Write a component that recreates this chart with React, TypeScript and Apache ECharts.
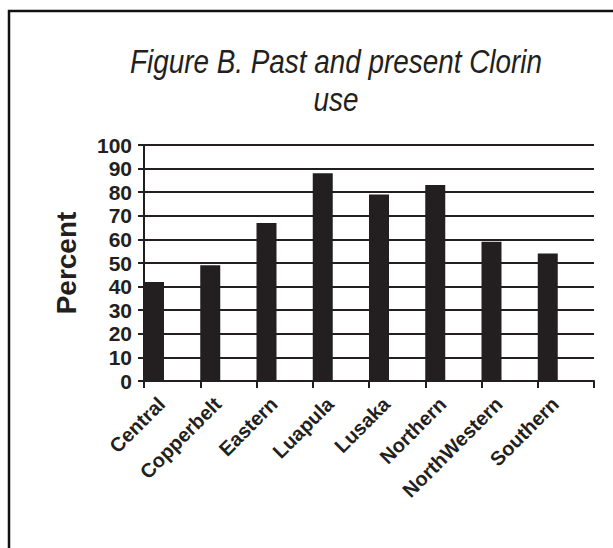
import React, { useEffect, useRef } from "react";
import * as echarts from "echarts";

const categories = ["Central", "Copperbelt", "Eastern", "Luapula", "Lusaka", "Northern", "NorthWestern", "Southern"];
const percentValues = [42, 49, 67, 88, 79, 83, 59, 54];
const emptyValues = categories.map(() => null);
const titleLines = ["Figure B. Past and present Clorin", "use"];
const yAxisName = "Percent";

export default function App() {
  const ref = useRef<HTMLDivElement>(null);
  useEffect(() => {
    if (!ref.current) return;
    const chart = echarts.init(ref.current, null, { renderer: "svg" });
    const dark = "#231f20";
    const sans = "'Liberation Sans', Arial, sans-serif";
    chart.setOption({
      animation: false,
      backgroundColor: "#ffffff",
      graphic: [
        {
          type: "rect",
          shape: { x: 9, y: 11, width: 800, height: 800 },
          style: { fill: "none", stroke: "#111111", lineWidth: 2.5 },
          silent: true,
        },
        ...titleLines.map((line, i) => ({
          type: "text",
          x: 336,
          y: 62 + i * 38,
          scaleX: 0.82,
          silent: true,
          style: {
            text: line,
            x: 0,
            y: 0,
            textAlign: "center",
            textVerticalAlign: "middle",
            fontFamily: sans,
            fontStyle: "italic",
            fontSize: 34,
            fill: dark,
          },
        })),
      ],
      grid: { left: 144, right: 19, top: 145, bottom: 167, containLabel: false },
      xAxis: {
        type: "category",
        data: categories,
        boundaryGap: true,
        axisLine: { lineStyle: { color: dark, width: 2 } },
        axisTick: { show: true, length: 7, lineStyle: { color: dark, width: 2 } },
        axisLabel: {
          rotate: 45,
          interval: 0,
          margin: 9,
          padding: [0, 15, 0, 0],
          fontFamily: sans,
          fontWeight: "bold",
          fontSize: 20,
          color: dark,
        },
        splitLine: { show: false },
      },
      yAxis: {
        type: "value",
        min: 0,
        max: 100,
        interval: 10,
        name: yAxisName,
        nameLocation: "middle",
        nameGap: 64,
        nameRotate: 90,
        nameTextStyle: {
          fontFamily: sans,
          fontWeight: "bold",
          fontSize: 28,
          color: dark,
        },
        axisLine: { show: true, lineStyle: { color: dark, width: 2 } },
        axisTick: { show: true, length: 6, lineStyle: { color: dark, width: 2 } },
        axisLabel: {
          margin: 12,
          fontFamily: sans,
          fontWeight: "bold",
          fontSize: 21,
          color: dark,
        },
        splitLine: { show: true, lineStyle: { color: dark, width: 2.2 } },
      },
      series: [
        {
          type: "bar",
          data: percentValues,
          barWidth: 20,
          barGap: 0,
          barCategoryGap: 0,
          itemStyle: { color: dark },
        },
        {
          type: "bar",
          data: emptyValues,
          barWidth: 36.25,
          barGap: 0,
          itemStyle: { color: "transparent" },
        },
      ],
    });
    return () => chart.dispose();
  }, []);
  return (
    <div
      ref={ref}
      style={{ position: "fixed", left: 0, top: 0, width: 613, height: 548, background: "#fff" }}
    />
  );
}
